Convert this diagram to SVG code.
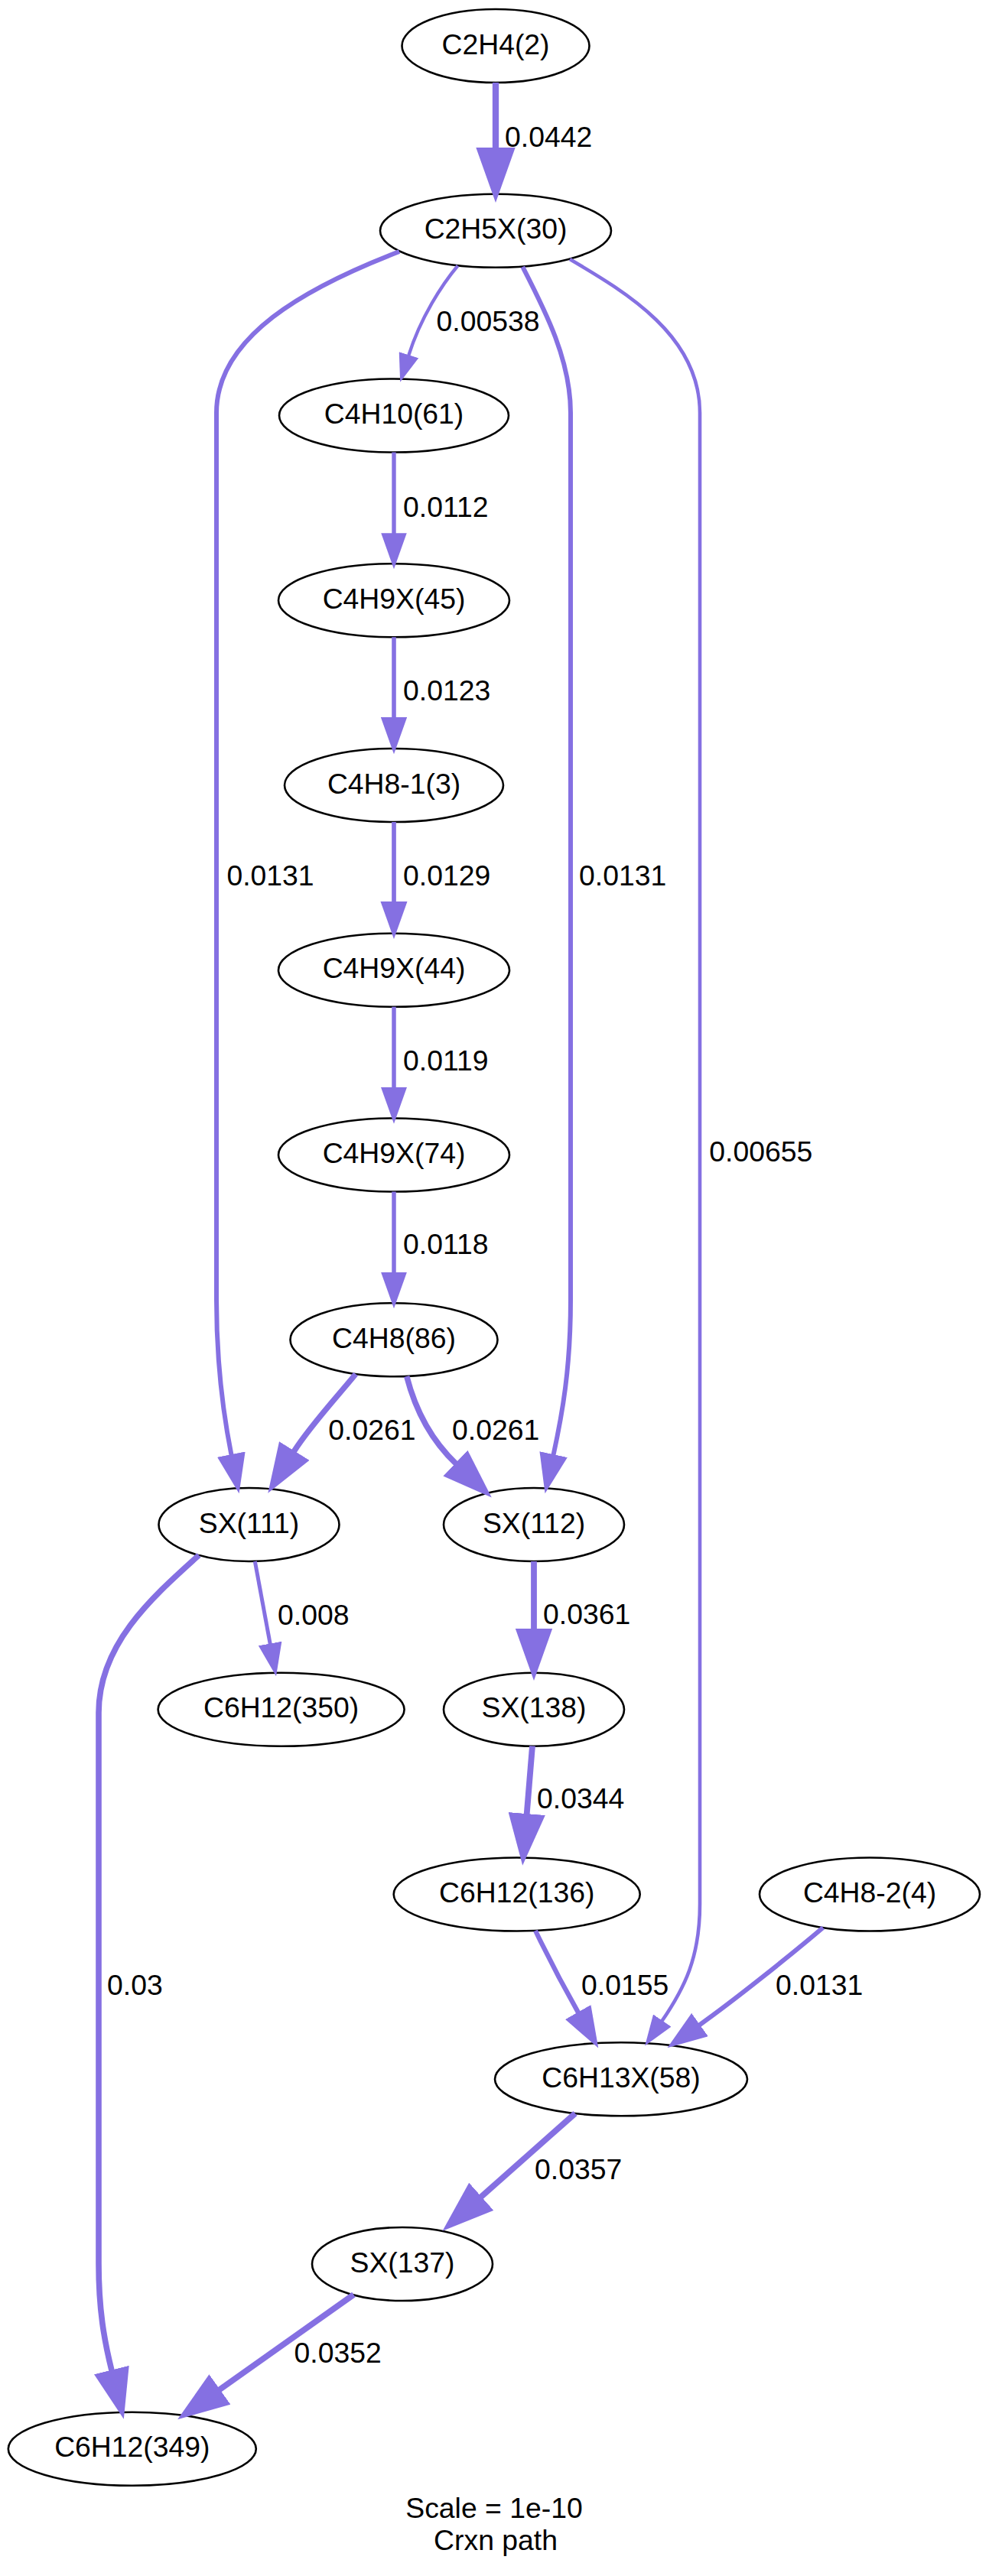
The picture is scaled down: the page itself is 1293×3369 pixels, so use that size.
<svg xmlns="http://www.w3.org/2000/svg" width="1293" height="3369" viewBox="0 0 1293 3369">
<style>
.node ellipse{fill:#ffffff;stroke:#000000;stroke-width:2.6}
.node text{font-family:"Liberation Sans",Arial,sans-serif;font-size:37.33px;text-anchor:middle;fill:#000000}
.edge path{fill:none;stroke:#8570e2;stroke-linecap:butt;marker-end:url(#ah)}
.lbl{font-family:"Liberation Sans",Arial,sans-serif;font-size:37.33px;fill:#000000}
.ttl{font-family:"Liberation Sans",Arial,sans-serif;font-size:37.33px;fill:#000000;text-anchor:middle}
</style>
<defs>
<marker id="ah" viewBox="0 0 8.7 6.2" refX="0.2" refY="3.1" markerWidth="8.7" markerHeight="6.2" markerUnits="strokeWidth" orient="auto">
<path d="M0,0 L8.7,3.1 L0,6.2 z" fill="#8570e2"/>
</marker>
</defs>
<rect x="0" y="0" width="1293" height="3369" fill="#ffffff"/>
<g id="nodes">
<g id="C2H4_2" class="node"><ellipse cx="648" cy="60" rx="122.5" ry="48"/><text x="648" y="70.5">C2H4(2)</text></g>
<g id="C2H5X_30" class="node"><ellipse cx="648" cy="301.75" rx="151" ry="48"/><text x="648" y="312.25">C2H5X(30)</text></g>
<g id="C4H10_61" class="node"><ellipse cx="515" cy="543.5" rx="150" ry="48"/><text x="515" y="554">C4H10(61)</text></g>
<g id="C4H9X_45" class="node"><ellipse cx="515" cy="785.25" rx="151" ry="48"/><text x="515" y="795.75">C4H9X(45)</text></g>
<g id="C4H8-1_3" class="node"><ellipse cx="515" cy="1027" rx="143" ry="48"/><text x="515" y="1037.5">C4H8-1(3)</text></g>
<g id="C4H9X_44" class="node"><ellipse cx="515" cy="1268.75" rx="151" ry="48"/><text x="515" y="1279.25">C4H9X(44)</text></g>
<g id="C4H9X_74" class="node"><ellipse cx="515" cy="1510.5" rx="151" ry="48"/><text x="515" y="1521">C4H9X(74)</text></g>
<g id="C4H8_86" class="node"><ellipse cx="515" cy="1752.25" rx="135.5" ry="48"/><text x="515" y="1762.75">C4H8(86)</text></g>
<g id="SX_111" class="node"><ellipse cx="325.5" cy="1994" rx="118" ry="48"/><text x="325.5" y="2004.5">SX(111)</text></g>
<g id="SX_112" class="node"><ellipse cx="698" cy="1994" rx="118" ry="48"/><text x="698" y="2004.5">SX(112)</text></g>
<g id="C6H12_350" class="node"><ellipse cx="367.6" cy="2235.75" rx="161" ry="48"/><text x="367.6" y="2246.25">C6H12(350)</text></g>
<g id="SX_138" class="node"><ellipse cx="698" cy="2235.75" rx="118" ry="48"/><text x="698" y="2246.25">SX(138)</text></g>
<g id="C6H12_136" class="node"><ellipse cx="675.7" cy="2477.5" rx="161" ry="48"/><text x="675.7" y="2488">C6H12(136)</text></g>
<g id="C4H8-2_4" class="node"><ellipse cx="1137" cy="2477.5" rx="144" ry="48"/><text x="1137" y="2488">C4H8-2(4)</text></g>
<g id="C6H13X_58" class="node"><ellipse cx="812" cy="2719.25" rx="165" ry="48"/><text x="812" y="2729.75">C6H13X(58)</text></g>
<g id="SX_137" class="node"><ellipse cx="526" cy="2961" rx="118" ry="48"/><text x="526" y="2971.5">SX(137)</text></g>
<g id="C6H12_349" class="node"><ellipse cx="172.8" cy="3202.75" rx="162" ry="48"/><text x="172.8" y="3213.25">C6H12(349)</text></g>
</g>
<g id="connectors">
<g class="edge"><path style="stroke-width:8.3" d="M648,108 L648,194.5"/><text class="lbl" x="660" y="191.7">0.0442</text></g>
<g class="edge"><path style="stroke-width:6" d="M522,329 C400,376 283,440 283,540 L283,1700 C283,1780 292,1850 302.6,1903.3"/><text class="lbl" x="296.4" y="1158">0.0131</text></g>
<g class="edge"><path style="stroke-width:4.3" d="M598.5,347.5 C578,372 550,415 534.2,465"/><text class="lbl" x="570.5" y="432.5">0.00538</text></g>
<g class="edge"><path style="stroke-width:6" d="M683.3,349 C712,405 746,470 746,540 L746,1700 C746,1790 735,1850 723.4,1903.3"/><text class="lbl" x="757" y="1158">0.0131</text></g>
<g class="edge"><path style="stroke-width:4.6" d="M745,339 C820,383 915,440 915,540 L915,2490 C915,2560 895,2600 865.3,2643.3"/><text class="lbl" x="927.3" y="1519.3">0.00655</text></g>
<g class="edge"><path style="stroke-width:5.4" d="M515,591.5 L515,698.4"/><text class="lbl" x="527" y="675.5">0.0112</text></g>
<g class="edge"><path style="stroke-width:5.6" d="M515,833.25 L515,938.7"/><text class="lbl" x="527" y="915.9">0.0123</text></g>
<g class="edge"><path style="stroke-width:5.7" d="M515,1075 L515,1179.7"/><text class="lbl" x="527" y="1158">0.0129</text></g>
<g class="edge"><path style="stroke-width:5.5" d="M515,1316.75 L515,1422.9"/><text class="lbl" x="527" y="1399.5">0.0119</text></g>
<g class="edge"><path style="stroke-width:5.5" d="M515,1558.5 L515,1664.6"/><text class="lbl" x="527" y="1640.3">0.0118</text></g>
<g class="edge"><path style="stroke-width:7.5" d="M465,1797 C445,1822 405,1865 384,1898.7"/><text class="lbl" x="429.3" y="1883.3">0.0261</text></g>
<g class="edge"><path style="stroke-width:7.5" d="M531.7,1800 C542,1840 560,1880 596.5,1914.6"/><text class="lbl" x="591" y="1883.3">0.0261</text></g>
<g class="edge"><path style="stroke-width:5" d="M333.3,2042 L353.3,2150.5"/><text class="lbl" x="363" y="2125">0.008</text></g>
<g class="edge"><path style="stroke-width:7.6" d="M260,2034 C200,2088 129,2150 129,2240 L129,2960 C129,3020 136,3060 146.2,3101"/><text class="lbl" x="140" y="2608.6">0.03</text></g>
<g class="edge"><path style="stroke-width:7.8" d="M698,2042 L698,2131.6"/><text class="lbl" x="710" y="2124.4">0.0361</text></g>
<g class="edge"><path style="stroke-width:7.8" d="M696,2283.5 L688.6,2373.6"/><text class="lbl" x="702" y="2365">0.0344</text></g>
<g class="edge"><path style="stroke-width:6.2" d="M700,2525 C712,2550 735,2595 756.3,2632.6"/><text class="lbl" x="760" y="2608.5">0.0155</text></g>
<g class="edge"><path style="stroke-width:6" d="M1076,2521 C1030,2560 960,2616 914,2648.7"/><text class="lbl" x="1014" y="2608.6">0.0131</text></g>
<g class="edge"><path style="stroke-width:7.8" d="M752,2764 L628.1,2873.8"/><text class="lbl" x="699" y="2849.7">0.0357</text></g>
<g class="edge"><path style="stroke-width:7.8" d="M462.4,3001 L286.2,3125.9"/><text class="lbl" x="384.6" y="3090">0.0352</text></g>
</g>
<g id="title">
<text class="ttl" x="646" y="3293">Scale = 1e-10</text>
<text class="ttl" x="648" y="3335">Crxn path</text>
</g>
</svg>
